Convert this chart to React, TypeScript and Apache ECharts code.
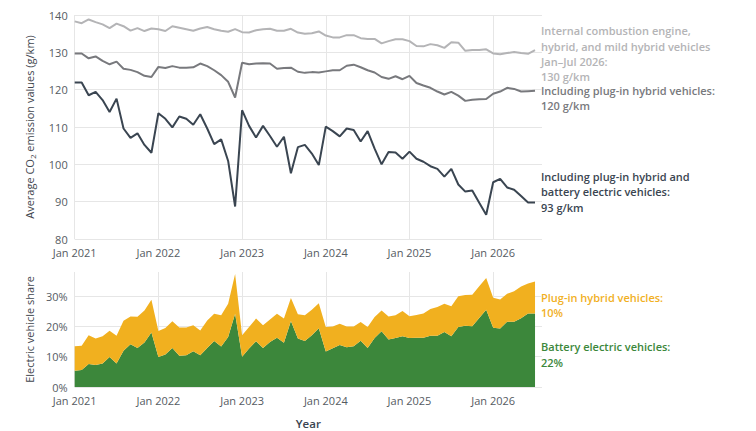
import React, { useEffect, useRef } from "react";
import * as echarts from "echarts";

const years = [2021, 2022, 2023, 2024, 2025, 2026];
const monthNames = ["Jan", "Feb", "Mar", "Apr", "May", "Jun", "Jul", "Aug", "Sep", "Oct", "Nov", "Dec"];
const months = years.flatMap((y) => monthNames.map((m) => `${m} ${y}`)).slice(0, 68);

// Average CO2 emission values (g/km)
const iceValues = [
  138.3, 137.8, 138.8, 138.1, 137.5, 136.5, 137.7, 137.0, 135.8, 136.5, 135.7, 136.4,
  136.2, 135.7, 137.0, 136.6, 136.2, 135.8, 136.4, 136.8, 136.2, 135.8, 135.5, 136.2,
  135.4, 135.3, 135.9, 136.2, 136.3, 135.8, 135.8, 136.3, 135.3, 135.0, 135.1, 135.6,
  134.5, 134.0, 134.0, 134.6, 134.6, 133.8, 133.6, 133.6, 132.4, 133.0, 133.5, 133.5,
  133.0, 131.7, 131.6, 132.2, 131.9, 131.2, 132.7, 132.6, 130.4, 130.6, 130.6, 130.8,
  129.7, 129.5, 129.8, 130.1, 129.8, 129.6, 130.6,
];
const phevInclValues = [
  129.7, 129.7, 128.4, 128.9, 127.7, 126.8, 127.5, 125.6, 125.3, 124.7, 123.7, 123.4,
  126.1, 125.8, 126.3, 125.9, 125.9, 126.0, 127.0, 126.3, 125.2, 123.9, 122.1, 117.9,
  127.2, 126.8, 127.0, 127.1, 127.0, 125.6, 125.8, 125.9, 124.8, 124.5, 124.7, 124.6,
  124.9, 125.2, 125.2, 126.4, 126.7, 126.0, 125.2, 124.6, 123.4, 122.9, 123.6, 122.8,
  123.7, 121.8, 121.1, 120.5, 119.5, 118.7, 119.4, 118.4, 117.0, 117.3, 117.4, 117.5,
  118.9, 119.5, 120.5, 120.2, 119.5, 119.6, 119.7,
];
const allInclValues = [
  121.9, 121.9, 118.5, 119.4, 117.2, 114.0, 117.6, 109.6, 107.1, 108.3, 105.2, 103.1,
  113.7, 112.2, 109.9, 112.8, 112.2, 110.6, 113.4, 109.6, 105.4, 106.7, 100.9, 88.7,
  114.5, 110.3, 107.2, 110.3, 107.6, 104.7, 107.4, 97.6, 104.6, 105.2, 102.9, 99.8,
  110.1, 108.9, 107.5, 109.6, 109.2, 106.1, 108.9, 104.2, 100.0, 103.3, 103.2, 101.5,
  103.4, 101.5, 100.7, 99.5, 98.8, 96.7, 98.8, 94.6, 92.7, 93.0, 89.7, 86.5,
  95.2, 96.1, 93.8, 93.2, 91.5, 89.8, 89.8,
];

// Electric vehicle share (%)
const bevShare = [
  5.4, 5.6, 7.6, 7.3, 7.8, 9.9, 7.8, 12.0, 14.1, 12.9, 14.7, 18.0,
  9.9, 10.7, 12.9, 10.3, 10.5, 11.8, 10.5, 12.9, 15.2, 13.4, 16.5, 24.2,
  10.0, 12.7, 15.1, 12.9, 14.9, 16.3, 14.6, 21.8, 16.0, 15.2, 17.1, 19.4,
  11.7, 12.8, 13.9, 13.1, 13.5, 15.3, 12.9, 16.2, 18.4, 15.7, 16.2, 16.8,
  16.2, 16.3, 16.3, 16.9, 16.9, 18.2, 16.8, 19.8, 20.2, 20.1, 22.8, 25.5,
  19.6, 19.3, 21.6, 21.6, 22.7, 24.3, 24.3,
];
const phevShare = [
  8.1, 8.0, 9.5, 8.7, 9.0, 8.7, 9.1, 9.9, 9.2, 10.3, 10.6, 10.8,
  8.6, 8.8, 8.8, 9.4, 9.2, 8.6, 8.2, 9.1, 9.0, 10.3, 11.0, 13.1,
  7.1, 7.1, 7.5, 7.5, 7.4, 7.9, 8.0, 7.6, 8.0, 8.5, 8.4, 8.3,
  8.1, 7.2, 7.0, 6.9, 6.5, 6.2, 6.9, 6.9, 6.9, 7.6, 7.5, 8.3,
  7.2, 7.5, 8.0, 8.9, 9.5, 9.3, 9.9, 10.2, 10.2, 10.4, 10.5, 10.5,
  9.9, 9.6, 9.2, 10.0, 10.5, 9.9, 10.6,
];

const emissionTicks = [80, 90, 100, 110, 120, 130, 140];
const shareTicks = [0, 10, 20, 30];

const FONT = "'Open Sans', 'Noto Sans', sans-serif";
const GRID_COLOR = "#e6e6e6";
const LABEL_COLOR = "#555b62";

const C_ICE = "#b4b4b6";
const C_PHEV_INCL = "#78797d";
const C_ALL = "#3a4551";
const C_BEV = "#3c873b";
const C_PHEV = "#f1b01f";

export default function App() {
  const ref = useRef<HTMLDivElement>(null);

  useEffect(() => {
    if (!ref.current) return;
    const chart = echarts.init(ref.current, undefined, { renderer: "svg" });
    const isJan = (i: number) => i % 12 === 0;

    const xBase = (gridIndex: number) => ({
      type: "category" as const,
      gridIndex,
      data: months,
      boundaryGap: false,
      axisLine: { show: false },
      axisTick: { show: false },
      axisLabel: {
        interval: (i: number) => isJan(i),
        color: LABEL_COLOR,
        fontSize: 11,
        lineHeight: 11,
        fontFamily: FONT,
        margin: 8,
      },
      splitLine: {
        show: true,
        interval: (i: number) => isJan(i),
        lineStyle: { color: GRID_COLOR, width: 1 },
      },
    });

    const labelBlock = (top: number, lines: string, color: string) => ({
      type: "text",
      left: 541,
      top,
      style: {
        text: lines,
        fill: color,
        font: `600 11px ${FONT}`,
        lineHeight: 15.3,
      },
    });

    chart.setOption({
      animation: false,
      backgroundColor: "#ffffff",
      textStyle: { fontFamily: FONT },
      grid: [
        { left: 74.7, right: 214, top: 15, height: 224 },
        { left: 74.7, right: 214, top: 272, height: 115 },
      ],
      xAxis: [
        xBase(0),
        {
          ...xBase(1),
          name: "Year",
          nameLocation: "middle",
          nameGap: 30,
          nameTextStyle: { color: C_ALL, fontSize: 11.5, fontWeight: 600, fontFamily: FONT },
        },
      ],
      yAxis: [
        {
          type: "value",
          gridIndex: 0,
          min: emissionTicks[0],
          max: emissionTicks[emissionTicks.length - 1],
          interval: emissionTicks[1] - emissionTicks[0],
          axisLine: { show: false },
          axisTick: { show: false },
          axisLabel: { color: LABEL_COLOR, fontSize: 11, lineHeight: 10, fontFamily: FONT, margin: 7 },
          splitLine: { lineStyle: { color: GRID_COLOR, width: 1 } },
          name: "Average CO{sub|2} emission values (g/km)",
          nameLocation: "middle",
          nameGap: 38,
          nameTextStyle: {
            color: "#3f464e",
            fontSize: 11,
            fontFamily: FONT,
            rich: {
              sub: { fontSize: 8, fontFamily: FONT, color: "#3f464e", verticalAlign: "bottom", padding: [6, 0, 0, 0] },
            },
          },
        },
        {
          type: "value",
          gridIndex: 1,
          min: shareTicks[0],
          max: 38,
          interval: shareTicks[1] - shareTicks[0],
          axisLine: { show: false },
          axisTick: { show: false },
          axisLabel: {
            color: LABEL_COLOR,
            fontSize: 11,
            lineHeight: 10,
            fontFamily: FONT,
            margin: 7,
            showMaxLabel: false,
            formatter: "{value}%",
          },
          splitLine: { showMaxLine: false, lineStyle: { color: GRID_COLOR, width: 1 } },
          name: "Electric vehicle share",
          nameLocation: "middle",
          nameGap: 38,
          nameTextStyle: { color: "#3f464e", fontSize: 11, fontFamily: FONT },
        },
      ],
      series: [
        {
          type: "line",
          xAxisIndex: 0,
          yAxisIndex: 0,
          data: iceValues,
          symbol: "none",
          lineStyle: { color: C_ICE, width: 2 },
        },
        {
          type: "line",
          xAxisIndex: 0,
          yAxisIndex: 0,
          data: phevInclValues,
          symbol: "none",
          lineStyle: { color: C_PHEV_INCL, width: 2 },
        },
        {
          type: "line",
          xAxisIndex: 0,
          yAxisIndex: 0,
          data: allInclValues,
          symbol: "none",
          lineStyle: { color: C_ALL, width: 2 },
        },
        {
          type: "line",
          xAxisIndex: 1,
          yAxisIndex: 1,
          stack: "share",
          data: bevShare,
          symbol: "none",
          lineStyle: { width: 0 },
          areaStyle: { color: C_BEV, opacity: 1 },
        },
        {
          type: "line",
          xAxisIndex: 1,
          yAxisIndex: 1,
          stack: "share",
          data: phevShare,
          symbol: "none",
          lineStyle: { width: 0 },
          areaStyle: { color: C_PHEV, opacity: 1 },
        },
      ],
      graphic: [
        labelBlock(23.2, "Internal combustion engine,\nhybrid, and mild hybrid vehicles\nJan–Jul 2026:\n130 g/km", C_ICE),
        labelBlock(82.6, "Including plug-in hybrid vehicles:\n120 g/km", C_PHEV_INCL),
        labelBlock(169, "Including plug-in hybrid and\nbattery electric vehicles:\n93 g/km", C_ALL),
        labelBlock(289.6, "Plug-in hybrid vehicles:\n10%", C_PHEV),
        labelBlock(339.3, "Battery electric vehicles:\n22%", C_BEV),
      ],
    });

    return () => chart.dispose();
  }, []);

  return (
    <div
      ref={ref}
      style={{ position: "fixed", left: 0, top: 0, width: 756, height: 431, background: "#fff" }}
    />
  );
}
